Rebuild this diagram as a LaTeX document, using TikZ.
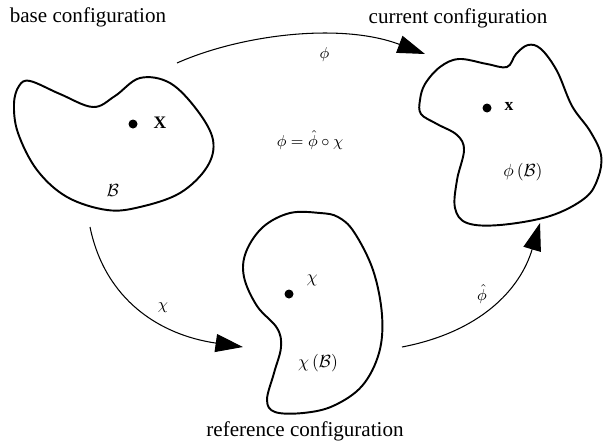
\documentclass[tikz,border=0pt]{standalone}
\usepackage{amsmath,amssymb}
\usepackage{fontspec}
\setmainfont{Liberation Serif}
\usetikzlibrary{arrows.meta}
\tikzset{
  blob/.style={line width=1.1pt, smooth cycle, tension=0.6},
  map/.style={line width=0.6pt, -{Triangle[length=0.55cm,width=0.36cm]}},
  title/.style={font=\fontsize{12}{14}\selectfont},
  pt/.style={fill, circle, inner sep=0pt, minimum size=0.18cm}
}

\begin{document}
\begin{tikzpicture}[x=0.02cm, y=-0.02cm, every node/.style={font=\normalsize}]
\useasboundingbox (0,0) rectangle (604,443);
\node[title] (tb) at (88,17) {base configuration};
\node[title] (tc) at (458,18) {current configuration};
\node[title] (tr) at (305,431) {reference configuration};
\draw[blob] plot coordinates {(19,86) (30,81) (60,94) (93,107) (115,96) (140,78) (170,83)
  (197,110) (213,140) (207,167) (180,193) (140,207) (107,210) (67,197) (37,170) (18,133) (14,104)};
\draw[blob] plot coordinates {(420,100) (425,84) (440,67) (459,59) (487,64) (507,67) (516,54)
  (528,45) (541,49) (557,71) (572,106) (590,131) (601,155) (598,178) (585,198) (550,216)
  (500,225) (467,223) (455,208) (457,180) (464,150) (457,135) (437,124) (421,114)};
\draw[blob] plot coordinates {(320,213) (290,213) (263,227) (246,252) (244,277) (257,306)
  (277,328) (281,347) (274,373) (267,400) (275,412) (303,413) (333,406) (362,386) (379,353)
  (382,315) (373,270) (354,232) (338,217)};
\node[pt] (X) at (133,124) {};
\node (lX) at (160,123) {$\mathbf{X}$};
\node (lB) at (113,190) {$\mathcal{B}$};
\node[pt] (x) at (487,108) {};
\node (lx) at (509,106) {$\mathbf{x}$};
\node (lpB) at (523,172) {$\phi\,(\mathcal{B})$};
\node[pt] (xr) at (289,294) {};
\node (lxr) at (312,280) {$\chi$};
\node (lcB) at (318,363) {$\chi\,(\mathcal{B})$};
\node (comp) at (310,140) {\small$\phi=\hat{\phi}\circ\chi$};
\coordinate (p0) at (177,63);
\coordinate (p1) at (425,54);
\draw[map] (p0) .. controls (240,35) and (340,22) .. (p1) node[pos=0.62,below=3pt] {\small$\phi$};
\coordinate (c0) at (90,227);
\coordinate (c1) at (243,347);
\draw[map] (c0) .. controls (105,300) and (160,335) .. (c1);
\node (lc) at (163,308) {\small$\chi$};
\coordinate (h0) at (402,347);
\coordinate (h1) at (540,223);
\draw[map] (h0) .. controls (480,332) and (520,290) .. (h1);
\node (lh) at (482,294) {\small$\hat{\phi}$};
\end{tikzpicture}
\end{document}
